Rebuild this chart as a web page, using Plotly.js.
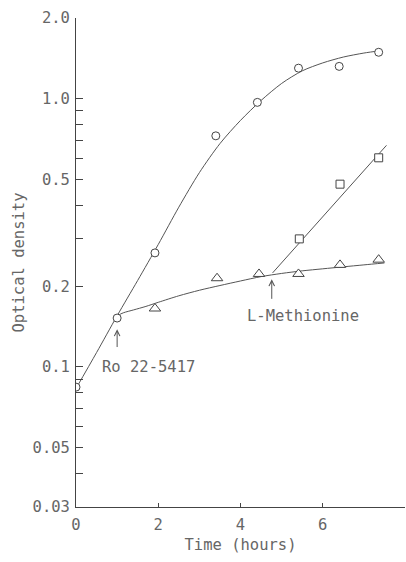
<!DOCTYPE html>
<html>
<head>
<meta charset="utf-8">
<script src="https://cdn.plot.ly/plotly-3.0.1.min.js"></script>
<style>html,body{margin:0;padding:0;background:#fff;}#chart{width:406px;height:562px;}</style>
</head>
<body>
<div id="chart"></div>
<script>
// Data points (time in hours, optical density)
const circleX = [0, 1.0, 1.92, 3.4, 4.41, 5.41, 6.40, 7.36];
const circleY = [0.084, 0.152, 0.266, 0.727, 0.969, 1.30, 1.32, 1.49];
const triX = [1.92, 3.43, 4.45, 5.41, 6.42, 7.36];
const triY = [0.165, 0.214, 0.222, 0.222, 0.240, 0.251];
const sqX = [5.43, 6.42, 7.36];
const sqY = [0.300, 0.480, 0.602];

// Fitted curves
const circleFitX = [0, 0.5, 1, 1.5, 2, 2.5, 3, 3.5, 4, 4.5, 5, 5.5, 6, 6.5, 7, 7.4];
const circleFitY = [0.083, 0.113, 0.155, 0.21, 0.286, 0.394, 0.53, 0.68, 0.83, 0.985, 1.14, 1.27, 1.36, 1.43, 1.48, 1.51];
const triFitX = [1.0, 1.15, 1.4, 1.7, 2.0, 2.5, 3.0, 3.5, 4.0, 4.5, 5.0, 5.5, 6.0, 6.5, 7.0, 7.5];
const triFitY = [0.155, 0.159, 0.163, 0.168, 0.174, 0.184, 0.193, 0.201, 0.209, 0.217, 0.223, 0.228, 0.232, 0.236, 0.240, 0.244];
const sqFitX = [4.78, 7.55];
const sqFitY = [0.224, 0.67];

// Axis ticks
const yTickVals = [0.03, 0.04, 0.05, 0.06, 0.07, 0.08, 0.09, 0.1, 0.2, 0.3, 0.4, 0.5, 0.6, 0.7, 0.8, 0.9, 1.0, 2.0];
const yTickText = ["0.03", "", "0.05", "", "", "", "", "0.1", "0.2", "", "", "0.5", "", "", "", "", "1.0", "2.0"];
const xTickVals = [0, 2, 4, 6, 8];
const xTickText = ["0", "2", "4", "6", "8"];

// Annotation labels
const roLabel = "Ro 22-5417";
const metLabel = "L-Methionine";

const FONT = "DejaVu Sans Mono, monospace";
const TXT = "#666";
const LINE = "#555";
const MK = "#444";

const traces = [
  {x: circleFitX, y: circleFitY, mode: "lines", line: {color: LINE, width: 1, shape: "spline", smoothing: 0.8}, hoverinfo: "skip"},
  {x: triFitX, y: triFitY, mode: "lines", line: {color: LINE, width: 1, shape: "spline", smoothing: 0.8}, hoverinfo: "skip"},
  {x: sqFitX, y: sqFitY, mode: "lines", line: {color: LINE, width: 1}, hoverinfo: "skip"},
  {x: circleX, y: circleY, mode: "markers", marker: {symbol: "circle", size: 8, color: "#fff", line: {color: MK, width: 1}}},
  {x: triX, y: triY, mode: "markers", marker: {symbol: "triangle-up", size: 10, color: "#fff", line: {color: MK, width: 1}}},
  {x: sqX, y: sqY, mode: "markers", marker: {symbol: "square", size: 8, color: "#fff", line: {color: MK, width: 1}}}
];

const layout = {
  width: 406, height: 562,
  margin: {l: 76, r: 1, t: 18, b: 55},
  paper_bgcolor: "#fff", plot_bgcolor: "#fff",
  showlegend: false,
  font: {family: FONT, size: 15.5, color: TXT},
  xaxis: {
    range: [0, 8], showgrid: false, zeroline: false,
    showline: true, linecolor: MK, linewidth: 1,
    ticks: "inside", ticklen: 4, tickcolor: MK, tickwidth: 1,
    tickmode: "array", tickvals: xTickVals, ticktext: xTickText,
    ticklabelstandoff: 3,
    tickfont: {family: FONT, size: 15.5, color: TXT},
    title: {text: "Time (hours)", font: {family: FONT, size: 15.5, color: TXT}, standoff: 6}
  },
  yaxis: {
    type: "log", range: [Math.log10(0.03), Math.log10(2.0)],
    showgrid: false, zeroline: false,
    showline: true, linecolor: MK, linewidth: 1,
    ticks: "inside", ticklen: 7, tickcolor: MK, tickwidth: 1,
    tickmode: "array", tickvals: yTickVals, ticktext: yTickText,
    ticklabelstandoff: 2,
    tickfont: {family: FONT, size: 15.5, color: TXT},
    title: {text: "Optical density", font: {family: FONT, size: 15.5, color: TXT}, standoff: 4}
  },
  annotations: [
    {x: 1.0, y: Math.log10(0.138), ax: 1.0, ay: Math.log10(0.117), xref: "x", yref: "y", axref: "x", ayref: "y",
     text: "", showarrow: true, arrowhead: 5, arrowsize: 1.1, arrowwidth: 1, arrowcolor: LINE},
    {x: 0.58, y: Math.log10(0.1), xref: "x", yref: "y", text: roLabel, showarrow: false, xanchor: "left", yanchor: "middle",
     font: {family: FONT, size: 15.5, color: TXT}},
    {x: 4.76, y: Math.log10(0.212), ax: 4.76, ay: Math.log10(0.177), xref: "x", yref: "y", axref: "x", ayref: "y",
     text: "", showarrow: true, arrowhead: 5, arrowsize: 1.1, arrowwidth: 1, arrowcolor: LINE},
    {x: 4.1, y: Math.log10(0.155), xref: "x", yref: "y", text: metLabel, showarrow: false, xanchor: "left", yanchor: "middle",
     font: {family: FONT, size: 15.5, color: TXT}}
  ]
};

Plotly.newPlot("chart", traces, layout, {displayModeBar: false, staticPlot: true});
</script>
</body>
</html>
